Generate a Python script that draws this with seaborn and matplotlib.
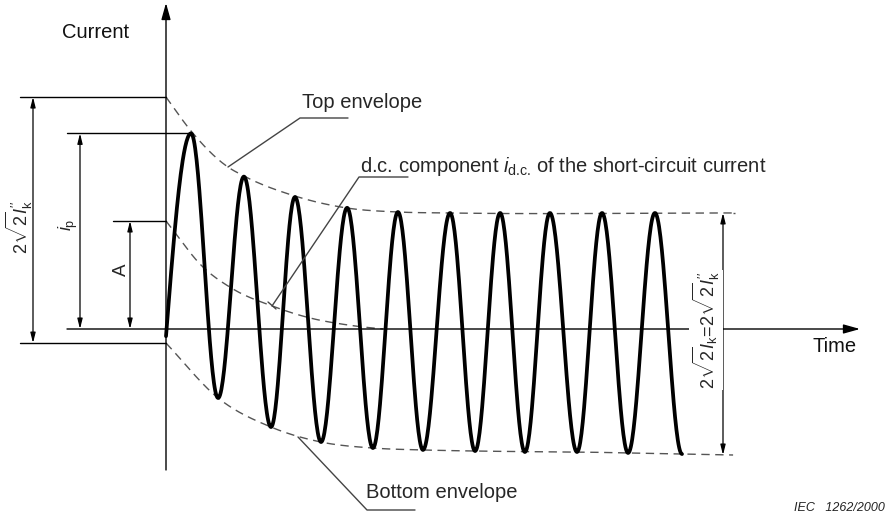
import numpy as np
import pandas as pd
import matplotlib
matplotlib.use("Agg")
import matplotlib.pyplot as plt
import seaborn as sns

# extrema of the short-circuit current (time in ms, current in p.u.)
t_start = 0.0
i_start = -0.06
t_ext = [9.7, 20.2, 30.2, 40.7, 50.0, 60.1, 70.2, 80.2, 89.9, 99.6,
         110.1, 119.8, 129.5, 139.1, 148.8, 159.3, 169.0, 179.1, 189.5, 200.0]
i_ext = [1.63, -0.575, 1.27, -0.817, 1.10, -0.942, 1.01, -0.992, 0.975, -1.008,
         0.967, -1.017, 0.967, -1.025, 0.967, -1.025, 0.967, -1.033, 0.967, -1.042]

# envelopes and d.c. component
t_top = [0.0, 9.7, 24.0, 30.2, 50.0, 70.2, 89.9, 110.0, 219.8]
i_top = [1.933, 1.65, 1.35, 1.275, 1.108, 1.008, 0.975, 0.967, 0.967]
t_bot = [0.0, 20.2, 40.7, 60.1, 80.2, 99.6, 119.8, 159.3, 200.0, 219.8]
i_bot = [-0.117, -0.575, -0.817, -0.942, -0.992, -1.008, -1.017, -1.025, -1.042, -1.05]
t_dc = [0.0, 14.3, 26.0, 41.1, 55.8, 70.0, 80.2, 84.1]
i_dc = [0.90, 0.517, 0.333, 0.192, 0.092, 0.035, 0.008, 0.0]

# frame: pixels per unit, origin position in the picture
PX_MS = 2.58
PX_PU = 120.0
X0, Y0 = 166, 329
W, H = 886, 521


def tx(px):
    return (px - X0) / PX_MS


def ty(py):
    return (Y0 - py) / PX_PU


def smooth(ts, ys, n=25):
    # cubic hermite (catmull-rom style) just for drawing a soft dashed curve
    ts = np.asarray(ts, float)
    ys = np.asarray(ys, float)
    m = np.gradient(ys, ts)
    xx, yy = [], []
    for k in range(len(ts) - 1):
        h = ts[k + 1] - ts[k]
        s = np.linspace(0, 1, n, endpoint=False)
        h00 = 2 * s**3 - 3 * s**2 + 1
        h10 = s**3 - 2 * s**2 + s
        h01 = -2 * s**3 + 3 * s**2
        h11 = s**3 - s**2
        xx.append(ts[k] + s * h)
        yy.append(h00 * ys[k] + h10 * h * m[k] + h01 * ys[k + 1] + h11 * h * m[k + 1])
    xx.append([ts[-1]])
    yy.append([ys[-1]])
    return np.concatenate(xx), np.concatenate(yy)


def wave():
    xs, ys = [], []
    s = np.linspace(0, 1, 40)
    # rising quarter from the start to the first peak
    xs.append(t_start + s * (t_ext[0] - t_start))
    ys.append(i_start + (i_ext[0] - i_start) * np.sin(np.pi / 2 * s))
    for k in range(len(t_ext) - 1):
        xs.append(t_ext[k] + s * (t_ext[k + 1] - t_ext[k]))
        ys.append(i_ext[k] + (i_ext[k + 1] - i_ext[k]) * (1 - np.cos(np.pi * s)) / 2)
    return np.concatenate(xs), np.concatenate(ys)


sns.set_theme(style="white")
plt.rcParams['font.family'] = ['Liberation Sans', 'DejaVu Sans']
plt.rcParams['mathtext.fontset'] = 'custom'
plt.rcParams['mathtext.rm'] = 'Liberation Sans'
plt.rcParams['mathtext.it'] = 'Liberation Sans:italic'
plt.rcParams['mathtext.bf'] = 'Liberation Sans:bold'

fig = plt.figure(figsize=(W / 100, H / 100), dpi=100)
ax = fig.add_axes([0, 0, 1, 1])
ax.set_xlim(tx(0), tx(W))
ax.set_ylim(ty(H), ty(0))
ax.axis('off')

env_kw = dict(color='#555555', lw=1.0, dashes=(6, 4))
FS = 14.5

# envelopes
xt, yt = smooth(t_top, i_top)
ax.plot(xt, yt, **env_kw)
xb, yb = smooth(t_bot, i_bot)
ax.plot(xb, yb, **env_kw)
xd, yd = smooth(t_dc, i_dc)
ax.plot(xd, yd, **env_kw)

# the current itself
xw, yw = wave()
df = pd.DataFrame({'t': xw, 'i': yw})
sns.lineplot(data=df, x='t', y='i', sort=False, color='black', lw=2.7, ax=ax, estimator=None)
ax.set_xlabel('')
ax.set_ylabel('')

# axes
big = dict(arrowstyle='-|>,head_length=1.0,head_width=0.28', color='black', lw=1.0,
           shrinkA=0, shrinkB=0, mutation_scale=10)
ax.annotate('', xy=(0, ty(3)), xytext=(0, ty(470)), arrowprops=big)
ax.annotate('', xy=(tx(860), 0), xytext=(tx(67), 0), arrowprops=big)
ax.text(tx(96), ty(33), 'Current', fontsize=FS, ha='center', va='center', color='#111111')
ax.text(tx(835), ty(347), 'Time', fontsize=FS, ha='center', va='center', color='#111111')

# dimension lines
dim = dict(arrowstyle='<|-|>,head_length=0.6,head_width=0.15', color='black', lw=0.9,
           shrinkA=0, shrinkB=0, mutation_scale=10)
lkw = dict(color='black', lw=1.0)

ax.plot([tx(20), 0], [i_top[0], i_top[0]], **lkw)
ax.plot([tx(20), 0], [i_bot[0], i_bot[0]], **lkw)
ax.annotate('', xy=(tx(33), i_top[0]), xytext=(tx(33), i_bot[0]), arrowprops=dim)
ax.text(tx(19), ty(227), r"$2\sqrt{2}I_{\mathrm{k}}^{\prime\prime}$",
        rotation=90, fontsize=13, ha='center', va='center')

ax.plot([tx(67), t_ext[0]], [i_ext[0], i_ext[0]], **lkw)
ax.annotate('', xy=(tx(80), i_ext[0]), xytext=(tx(80), 0), arrowprops=dim)
ax.text(tx(68), ty(225), r"$i_{\mathrm{p}}$", rotation=90, fontsize=13,
        ha='center', va='center')

ax.plot([tx(113), 0], [i_dc[0], i_dc[0]], **lkw)
ax.annotate('', xy=(tx(130), i_dc[0]), xytext=(tx(130), 0), arrowprops=dim)
ax.text(tx(121), ty(270), 'A', rotation=90, fontsize=13.5,
        ha='center', va='center')

ax.plot([t_top[-1], tx(735)], [i_top[-1], i_top[-1]], **env_kw)
ax.annotate('', xy=(tx(723), i_top[-1]), xytext=(tx(723), i_bot[-1]), arrowprops=dim)
ax.text(tx(706), ty(330),
        r"$2\sqrt{2}I_{\mathrm{k}}\!=\!2\sqrt{2}I_{\mathrm{k}}^{\prime\prime}$",
        rotation=90, fontsize=13, ha='center', va='center',
        bbox=dict(facecolor='white', edgecolor='none', pad=1.0))

# leader lines and labels
lead = dict(color='#444444', lw=1.0)
ax.plot([tx(228), tx(300), tx(348)], [ty(167), ty(118), ty(118)], **lead)
ax.text(tx(302), ty(103), 'Top envelope', fontsize=FS, ha='left', va='center')

ax.plot([tx(272), tx(359), tx(408)], [ty(306), ty(177), ty(177)], **lead)
ax.plot([tx(268), tx(276)], [ty(302), ty(309)], **lead)
ax.text(tx(360), ty(166), r"d.c. component $i_{\text{d.c.}}$ of the short-circuit current",
        fontsize=FS, ha='left', va='center')

ax.plot([tx(298), tx(367), tx(415)], [ty(437), ty(510), ty(510)], **lead)
ax.text(tx(366), ty(492), 'Bottom envelope', fontsize=FS, ha='left', va='center')

ax.text(tx(885), ty(511), 'IEC   1262/2000', fontsize=9, style='italic',
        ha='right', va='baseline', color='#222222')

fig.savefig('out.png', dpi=100)
